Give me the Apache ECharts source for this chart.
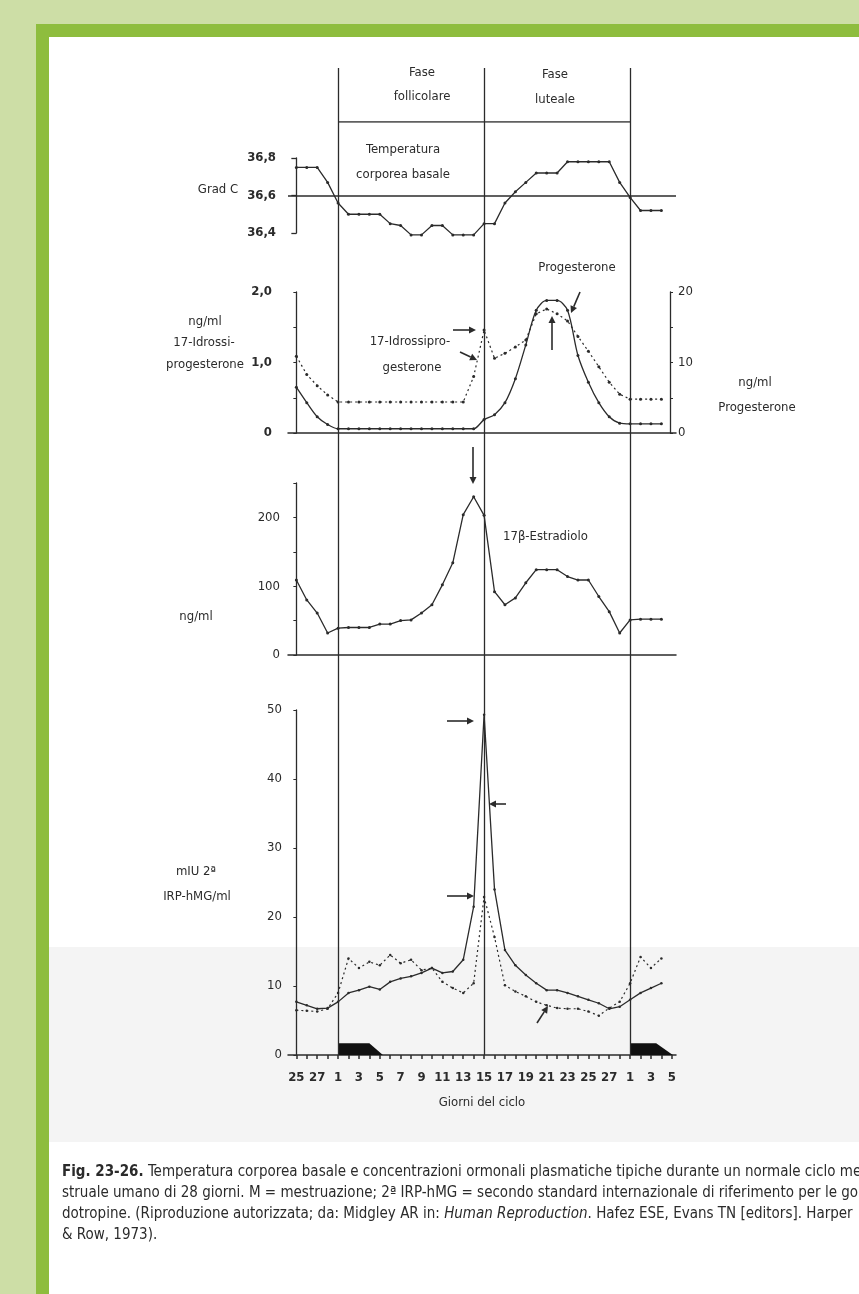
<!DOCTYPE html>
<html style="height: 100%">
<head>
  <meta charset="utf-8">
</head>
<body style="height: 100%; margin: 0">
  <div id="frame"></div>
  <div id="shade"></div>
  <div id="container" style="position: absolute; left: 0; top: 0; width: 859px; height: 1294px"></div>

  <script type="text/javascript" src="https://cdn.jsdelivr.net/npm/echarts@6.0.0/dist/echarts.min.js"></script>
  <style>
    body {
      background: #cddea6;
      overflow: hidden;
    }
    #frame {
      position: absolute;
      left: 36px;
      top: 24px;
      width: 900px;
      height: 1400px;
      border: 13px solid #8ebd3e;
      background: #fff;
    }
    #shade {
      position: absolute;
      left: 49px;
      top: 947px;
      width: 820px;
      height: 195px;
      background: #f4f4f4;
    }
  </style>
  <script type="text/javascript">
    // x positions are indexes into days (day 25 of previous cycle .. day 5 of next)
    var days = ['25', '26', '27', '28',
      '1', '2', '3', '4', '5', '6', '7', '8', '9', '10', '11', '12', '13', '14',
      '15', '16', '17', '18', '19', '20', '21', '22', '23', '24', '25', '26', '27', '28',
      '1', '2', '3', '4', '5'];
    var phaseDays = [4, 18, 32];
    var phaseSpan = [4, 32];

    var temperature = [36.75, 36.75, 36.75, 36.67, 36.56, 36.50, 36.50, 36.50, 36.50, 36.45,
      36.44, 36.39, 36.39, 36.44, 36.44, 36.39, 36.39, 36.39, 36.45, 36.45,
      36.56, 36.62, 36.67, 36.72, 36.72, 36.72, 36.78, 36.78, 36.78, 36.78,
      36.78, 36.67, 36.59, 36.52, 36.52, 36.52];
    var hydroxyProg = [1.09, 0.83, 0.67, 0.54, 0.44, 0.44, 0.44, 0.44, 0.44, 0.44,
      0.44, 0.44, 0.44, 0.44, 0.44, 0.44, 0.44, 0.8, 1.46, 1.06,
      1.13, 1.22, 1.32, 1.69, 1.76, 1.69, 1.59, 1.37, 1.16, 0.94,
      0.72, 0.55, 0.48, 0.48, 0.48, 0.48];
    var progesterone = [6.5, 4.3, 2.3, 1.2, 0.6, 0.6, 0.6, 0.6, 0.6, 0.6,
      0.6, 0.6, 0.6, 0.6, 0.6, 0.6, 0.6, 0.6, 1.9, 2.6,
      4.3, 7.7, 12.5, 17.4, 18.8, 18.8, 17.4, 11.0, 7.2, 4.3,
      2.3, 1.4, 1.3, 1.3, 1.3, 1.3];
    var estradiol = [109, 80, 61, 32, 39, 40, 40, 40, 45, 45,
      50, 51, 61, 73, 102, 134, 204, 230, 203, 92,
      73, 83, 105, 124, 124, 124, 114, 109, 109, 85,
      63, 32, 51, 52, 52, 52];
    var lh = [7.7, 7.2, 6.7, 6.8, 7.7, 9.0, 9.4, 9.9, 9.5, 10.6,
      11.1, 11.4, 11.9, 12.6, 11.9, 12.1, 13.8, 21.5, 49.3, 24,
      15.2, 13.0, 11.6, 10.4, 9.4, 9.4, 9.0, 8.5, 8.0, 7.5,
      6.7, 7.0, 8.0, 9.0, 9.7, 10.4];
    var fsh = [6.5, 6.4, 6.3, 6.7, 9.0, 14.0, 12.6, 13.5, 13.0, 14.5,
      13.3, 13.8, 12.3, 12.6, 10.6, 9.7, 9.0, 10.4, 22.9, 17.1,
      10.1, 9.2, 8.5, 7.7, 7.2, 6.8, 6.7, 6.7, 6.3, 5.7,
      6.8, 7.7, 10.4, 14.2, 12.6, 14.0];
    // menstruation blocks: [x, height] outline
    var mensesA = [[4, 0], [4, 1.7], [7, 1.7], [8.3, 0]];
    var mensesB = [[32, 0], [32, 1.7], [34.5, 1.7], [36.1, 0]];

    var ink = '#2b2b2b';
    var narrow = '"Liberation Sans Narrow", "DejaVu Sans Condensed", sans-serif';

    var dom = document.getElementById('container');
    var myChart = echarts.init(dom);

    function pairs(arr) {
      return arr.map(function (v, i) { return [i, v]; });
    }
    function comma(v) {
      return v.toFixed(1).replace('.', ',');
    }

    var xBase = { type: 'value', min: -0.8, max: 36.4, show: false, splitLine: { show: false } };
    function xAxisFor(grid, line) {
      return Object.assign({}, xBase, {
        gridIndex: grid,
        show: line,
        axisLine: { show: line, onZero: false, lineStyle: { color: ink, width: 1.5 } },
        axisTick: { show: false },
        axisLabel: { show: false }
      });
    }
    function yAxisFor(grid, min, max, interval, fmt, margin, extra) {
      return Object.assign({
        type: 'value', gridIndex: grid, min: min, max: max, interval: interval,
        axisLine: { show: true, lineStyle: { color: ink, width: 1.3 } },
        axisTick: { show: true, length: 3, lineStyle: { color: ink } },
        axisLabel: { formatter: fmt, color: ink, fontFamily: narrow, fontSize: 13, margin: margin },
        splitLine: { show: false }
      }, extra || {});
    }

    var solid = { color: ink, width: 1.3 };
    var dotted = { color: ink, width: 1.2, type: [2, 3] };

    function arrow(x1, y1, x2, y2) {
      var a = Math.atan2(y2 - y1, x2 - x1), h = 7, w = 3.5;
      var bx = x2 - h * Math.cos(a), by = y2 - h * Math.sin(a);
      return [
        { type: 'line', shape: { x1: x1, y1: y1, x2: bx, y2: by }, style: { stroke: ink, lineWidth: 1.6 } },
        { type: 'polygon', shape: { points: [[x2, y2], [bx - w * Math.sin(a), by + w * Math.cos(a)], [bx + w * Math.sin(a), by - w * Math.cos(a)]] }, style: { fill: ink } }
      ];
    }

    function label(text, x, y, align, size, weight) {
      return {
        type: 'text',
        style: {
          text: text, x: x, y: y, fill: ink,
          font: (weight || 'normal') + ' ' + (size || 13) + 'px ' + narrow,
          textAlign: align || 'center', textVerticalAlign: 'middle'
        }
      };
    }

    var texts = [
      label('Fase', 422, 73), label('follicolare', 422, 97),
      label('Fase', 555, 75), label('luteale', 555, 100),
      label('Temperatura', 403, 150), label('corporea basale', 403, 175),
      label('Grad C', 218, 190),
      label('ng/ml', 205, 322), label('17-Idrossi-', 204, 343), label('progesterone', 205, 365),
      label('17-Idrossipro-', 410, 342), label('gesterone', 412, 368),
      label('Progesterone', 577, 268),
      label('ng/ml', 755, 383), label('Progesterone', 757, 408),
      label('17\u03b2-Estradiolo', 503, 537, 'left'),
      label('ng/ml', 196, 617),
      label('mIU 2\u00aa', 196, 872), label('IRP-hMG/ml', 197, 897)
    ];

    var captionLines = [
      '{b|Fig. 23-26.} Temperatura corporea basale e concentrazioni ormonali plasmatiche tipiche durante un normale ciclo me-',
      'struale umano di 28 giorni. M = mestruazione; 2\u00aa IRP-hMG = secondo standard internazionale di riferimento per le go-',
      'dotropine. (Riproduzione autorizzata; da: Midgley AR in: {i|Human Reproduction}. Hafez ESE, Evans TN [editors]. Harper',
      '& Row, 1973).'
    ];
    var caption = captionLines.map(function (t, k) {
      return {
        type: 'text',
        style: {
          text: t, x: 62, y: 1172 + k * 21, fill: ink,
          font: '15px ' + narrow, textVerticalAlign: 'middle',
          rich: {
            b: { fontWeight: 'bold', fontSize: 15, fontFamily: narrow, fill: ink },
            i: { fontStyle: 'italic', fontSize: 15, fontFamily: narrow, fill: ink }
          }
        }
      };
    });

    var arrows = [].concat(
      arrow(473, 447, 473, 484),
      arrow(453, 330, 476, 330),
      arrow(460, 352, 477, 360),
      arrow(580, 292, 571, 313),
      arrow(552, 350, 552, 316),
      arrow(447, 721, 474, 721),
      arrow(506, 804, 489, 804),
      arrow(447, 896, 474, 896),
      arrow(537, 1023, 548, 1006)
    );

    var option = {
      animation: false,
      grid: [
        { left: 288, width: 388, top: 68, height: 987 },
        { left: 288, width: 388, top: 68, height: 54 },
        { left: 288, width: 388, top: 158, height: 75 },
        { left: 288, width: 388, top: 292, height: 141 },
        { left: 288, width: 388, top: 483, height: 172 },
        { left: 288, width: 388, top: 710, height: 345 }
      ],
      xAxis: [
        xAxisFor(0, false),
        xAxisFor(1, false),
        xAxisFor(2, false),
        xAxisFor(3, true),
        xAxisFor(4, true),
        Object.assign({}, xBase, {
          gridIndex: 5, show: true,
          name: 'Giorni del ciclo', nameLocation: 'middle', nameGap: 41,
          nameTextStyle: { color: ink, fontFamily: narrow, fontSize: 13 },
          axisLine: { show: true, onZero: false, lineStyle: { color: ink, width: 1.5 } },
          axisTick: { show: true, length: 4, inside: false, customValues: days.map(function (d, i) { return i; }), lineStyle: { color: ink, width: 1.5 } },
          axisLabel: {
            show: true, color: ink, fontFamily: narrow, fontSize: 13, fontWeight: 'bold', margin: 16,
            customValues: days.map(function (d, i) { return i; }).filter(function (i) { return i % 2 === 0; }),
            formatter: function (v) { return days[Math.round(v)]; }
          }
        })
      ],
      yAxis: [
        { type: 'value', gridIndex: 0, min: 0, max: 1, show: false },
        { type: 'value', gridIndex: 1, min: 0, max: 1, show: false },
        yAxisFor(2, 36.4, 36.8, 0.2, comma, 12, { axisLabel: { formatter: comma, color: ink, fontFamily: narrow, fontSize: 13, fontWeight: 'bold', margin: 12 }, axisTick: { show: true, length: 5, lineStyle: { color: ink, width: 1.3 } } }),
        yAxisFor(3, 0, 2, 0.5, function (v) { return v === 0 ? '0' : (v % 1 === 0 ? comma(v) : ''); }, 16, { axisLabel: { formatter: function (v) { return v === 0 ? '0' : (v % 1 === 0 ? comma(v) : ''); }, color: ink, fontFamily: narrow, fontSize: 13, fontWeight: 'bold', margin: 16 } }),
        yAxisFor(3, 0, 20, 5, function (v) { return v % 10 === 0 ? String(v) : ''; }, 8, { position: 'right', offset: -6 }),
        yAxisFor(4, 0, 250, 50, function (v) { return v % 100 === 0 ? String(v) : ''; }, 8),
        yAxisFor(5, 0, 50, 10, function (v) { return String(v); }, 6)
      ],
      graphic: texts.concat(arrows, caption),
      series: [
        {
          type: 'line', xAxisIndex: 0, yAxisIndex: 0, data: [], silent: true,
          markLine: {
            silent: true, symbol: 'none', label: { show: false },
            lineStyle: { color: ink, width: 1.3, type: 'solid' },
            data: phaseDays.map(function (d) { return { xAxis: d }; })
          }
        },
        {
          type: 'line', xAxisIndex: 1, yAxisIndex: 1, symbol: 'none', silent: true,
          lineStyle: { color: ink, width: 1.5 },
          data: phaseSpan.map(function (d) { return [d, 0]; })
        },
        {
          name: 'Temperatura', type: 'line', xAxisIndex: 2, yAxisIndex: 2, clip: false,
          symbol: 'circle', symbolSize: 3, itemStyle: { color: ink }, lineStyle: solid,
          data: pairs(temperature),
          markLine: {
            silent: true, symbol: 'none', label: { show: false },
            lineStyle: { color: ink, width: 1.7, type: 'solid' },
            data: [{ yAxis: 36.6 }]
          }
        },
        {
          name: '17-Idrossiprogesterone', type: 'line', xAxisIndex: 3, yAxisIndex: 3,
          symbol: 'circle', symbolSize: 3, itemStyle: { color: ink }, lineStyle: dotted,
          data: pairs(hydroxyProg)
        },
        {
          name: 'Progesterone', type: 'line', xAxisIndex: 3, yAxisIndex: 4, smooth: 0.3,
          symbol: 'circle', symbolSize: 3, itemStyle: { color: ink }, lineStyle: solid,
          data: pairs(progesterone)
        },
        {
          name: 'Estradiolo', type: 'line', xAxisIndex: 4, yAxisIndex: 5,
          symbol: 'circle', symbolSize: 3, itemStyle: { color: ink }, lineStyle: solid,
          data: pairs(estradiol)
        },
        {
          name: 'LH', type: 'line', xAxisIndex: 5, yAxisIndex: 6,
          symbol: 'circle', symbolSize: 2.5, itemStyle: { color: ink }, lineStyle: solid,
          data: pairs(lh)
        },
        {
          name: 'FSH', type: 'line', xAxisIndex: 5, yAxisIndex: 6,
          symbol: 'circle', symbolSize: 2.5, itemStyle: { color: ink }, lineStyle: dotted,
          data: pairs(fsh)
        },
        {
          name: 'M', type: 'line', xAxisIndex: 5, yAxisIndex: 6, symbol: 'none', silent: true,
          lineStyle: { width: 0 }, areaStyle: { color: '#111', opacity: 1 },
          data: mensesA
        },
        {
          name: 'M', type: 'line', xAxisIndex: 5, yAxisIndex: 6, symbol: 'none', silent: true,
          lineStyle: { width: 0 }, areaStyle: { color: '#111', opacity: 1 },
          data: mensesB
        }
      ]
    };

    if (option && typeof option === 'object') {
      myChart.setOption(option);
    }
  </script>
</body>
</html>
